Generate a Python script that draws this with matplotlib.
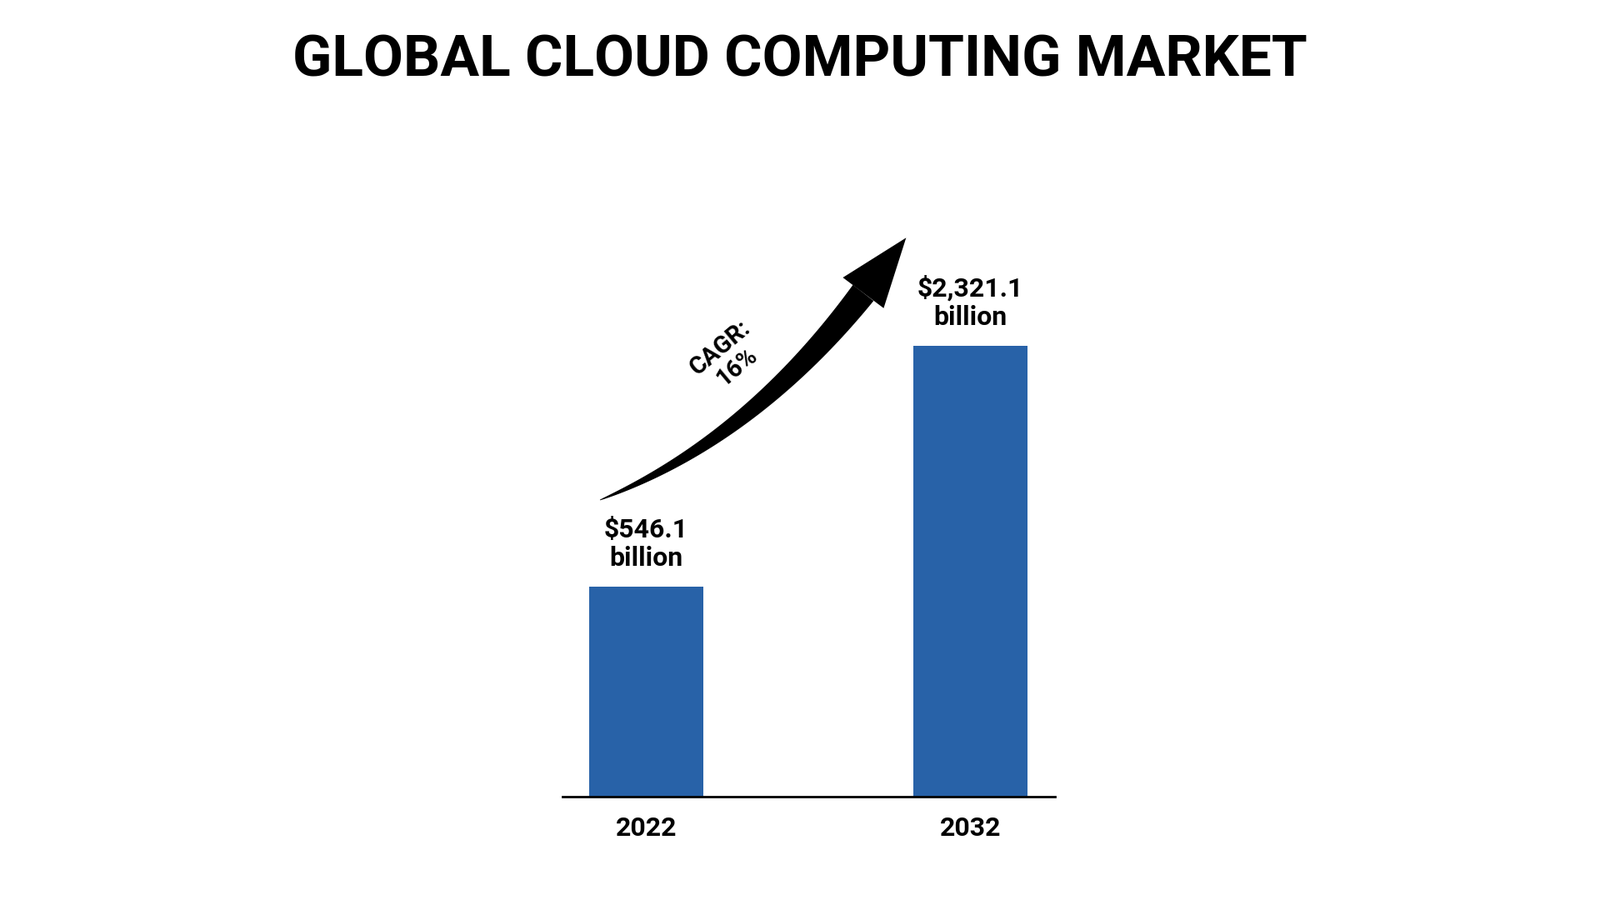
import numpy as np
import matplotlib.pyplot as plt
from matplotlib.patches import Polygon

# data
years = ["2022", "2032"]
values = [546.1, 2321.1]
value_labels = ["$546.1\nbillion", "$2,321.1\nbillion"]
cagr_text = "CAGR:\n16%"

bar_color = "#2862a8"
base = -1003  # visual baseline used in the original graphic

fig = plt.figure(figsize=(19.2, 10.8), dpi=100)
W, H = 1568, 882  # reference layout units

def fx(px):
    return px / W

def fy(py):
    return 1 - py / H

ax = fig.add_axes([fx(551), fy(781), fx(1034) - fx(551), fy(200) - fy(781)])
x = np.arange(len(years))
heights = [v - base for v in values]
ax.bar(x, heights, bottom=base, width=0.352, color=bar_color, zorder=2)
ax.set_xlim(-0.258, 1.261)
ax.set_ylim(base, 3366)
for s in ["top", "right", "left"]:
    ax.spines[s].set_visible(False)
ax.spines["bottom"].set_linewidth(2)
ax.set_yticks([])
ax.set_xticks(x)
ax.set_xticklabels(years, fontsize=23, fontweight="bold", family="Roboto")
ax.tick_params(axis="x", length=0, pad=16)

for xi, v, lab in zip(x, values, value_labels):
    ax.text(xi, v + 120, lab, ha="center", va="bottom", fontsize=23,
            fontweight="bold", family="Roboto", linespacing=1.15)

# overlay for title and growth arrow
ov = fig.add_axes([0, 0, 1, 1])
ov.set_xlim(0, W)
ov.set_ylim(H, 0)
ov.axis("off")

ov.text(784, 60, "GLOBAL CLOUD COMPUTING MARKET", ha="center", va="center",
        fontsize=50, fontweight="heavy", family="Roboto")

# tapered curved arrow shaft (quadratic bezier)
p0 = np.array([588, 490])
p1 = np.array([735, 431])
p2 = np.array([846, 287])
t = np.linspace(0, 1, 80)[:, None]
pts = (1 - t) ** 2 * p0 + 2 * (1 - t) * t * p1 + t ** 2 * p2
d = np.gradient(pts, axis=0)
n = np.stack([-d[:, 1], d[:, 0]], axis=1)
n /= np.linalg.norm(n, axis=1)[:, None]
w = (0.3 + 12.5 * t[:, 0] ** 0.8)[:, None]
shaft = np.vstack([pts + n * w, (pts - n * w)[::-1]])
ov.add_patch(Polygon(shaft, closed=True, color="black", lw=0))
ov.add_patch(Polygon([[888, 233], [826, 272], [866, 302]], closed=True,
                     color="black", lw=0))

ov.text(714, 350, cagr_text, ha="center", va="center", rotation=40,
        fontsize=21, fontweight="bold", family="Roboto", linespacing=1.1)

fig.savefig("out.png", dpi=100, facecolor="white")
